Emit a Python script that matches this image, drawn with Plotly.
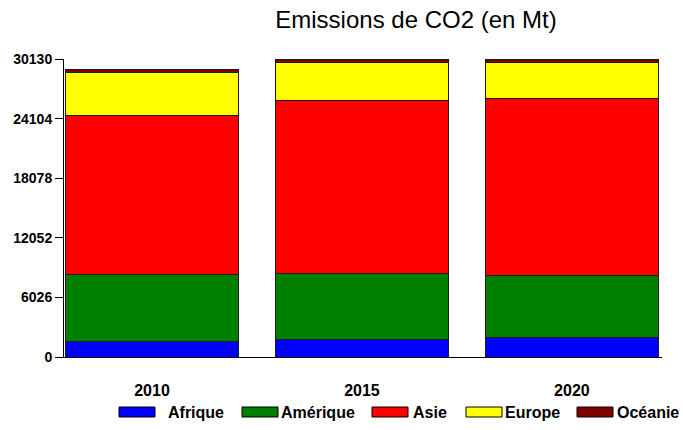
import plotly.graph_objects as go

# ---- data ----
years = ["2010", "2015", "2020"]
regions = ["Afrique", "Amérique", "Asie", "Europe", "Océanie"]
afrique = [1520, 1820, 1990]
amerique = [6870, 6640, 6300]
asie = [15980, 17520, 17870]
europe = [4350, 3770, 3600]
oceanie = [330, 380, 370]
y_ticks = [0, 6026, 12052, 18078, 24104, 30130]

series = [afrique, amerique, asie, europe, oceanie]
colors = ["#0000FF", "#008000", "#FF0000", "#FFFF00", "#800000"]

# ---- layout geometry (pixels) ----
W, H = 683, 430
L, R, T, B = 64, 21, 59, 73
pw, ph = W - L - R, H - T - B

def px_x(p):
    return (p - L) / pw

def px_y(p):
    return (H - B - p) / ph

FONT = "Liberation Sans, Arial, Helvetica, sans-serif"

fig = go.Figure()
for name, vals, col in zip(regions, series, colors):
    fig.add_trace(go.Bar(
        x=years, y=vals, name=name,
        marker=dict(color=col, line=dict(color="#1a1a1a", width=1)),
        showlegend=False,
    ))

# custom legend with wide swatches
sw_left = [119, 242, 372, 466, 577]
txt_left = [166, 279, 411, 503, 615]
sw_w, sw_top, sw_bot, leg_y = 36, 407, 417, 412
for name, col, sx, tx in zip(regions, colors, sw_left, txt_left):
    fig.add_shape(type="rect", xref="paper", yref="paper",
                  x0=px_x(sx), x1=px_x(sx + sw_w), y0=px_y(sw_bot), y1=px_y(sw_top),
                  fillcolor=col, line=dict(color="#000000", width=1))
    fig.add_annotation(xref="paper", yref="paper", x=px_x(tx), y=px_y(leg_y),
                       text=name, showarrow=False, xanchor="left", yanchor="middle",
                       font=dict(family=FONT, size=16, color="#000000", weight="bold"))

fig.update_layout(
    width=W, height=H,
    margin=dict(l=L, r=R, t=T, b=B, pad=0),
    barmode="stack", bargap=0.176,
    plot_bgcolor="white", paper_bgcolor="white",
    title=dict(text="Emissions de CO2 (en Mt)", x=416 / W, xanchor="center",
               y=1 - 20 / H, yanchor="middle", xref="container", yref="container",
               font=dict(family=FONT, size=24, color="#000000")),
    showlegend=False,
)
fig.update_xaxes(type="category", range=[-0.419, 2.429], showline=True, linecolor="#000000",
                 linewidth=1, ticks="", showgrid=False, zeroline=False,
                 tickfont=dict(family=FONT, size=16, color="#000000", weight="bold"),
                 ticklabelstandoff=19)
fig.update_yaxes(range=[0, 30130], tickvals=y_ticks, ticktext=[str(v) for v in y_ticks],
                 showline=True, linecolor="#000000", linewidth=1, ticks="outside",
                 ticklen=8, tickcolor="#000000", showgrid=False, zeroline=False,
                 tickfont=dict(family=FONT, size=14, color="#000000", weight="bold"))

fig.write_html("out.html", config={"displayModeBar": False},
               post_script="document.body.style.margin='0';document.body.style.overflow='hidden';")
